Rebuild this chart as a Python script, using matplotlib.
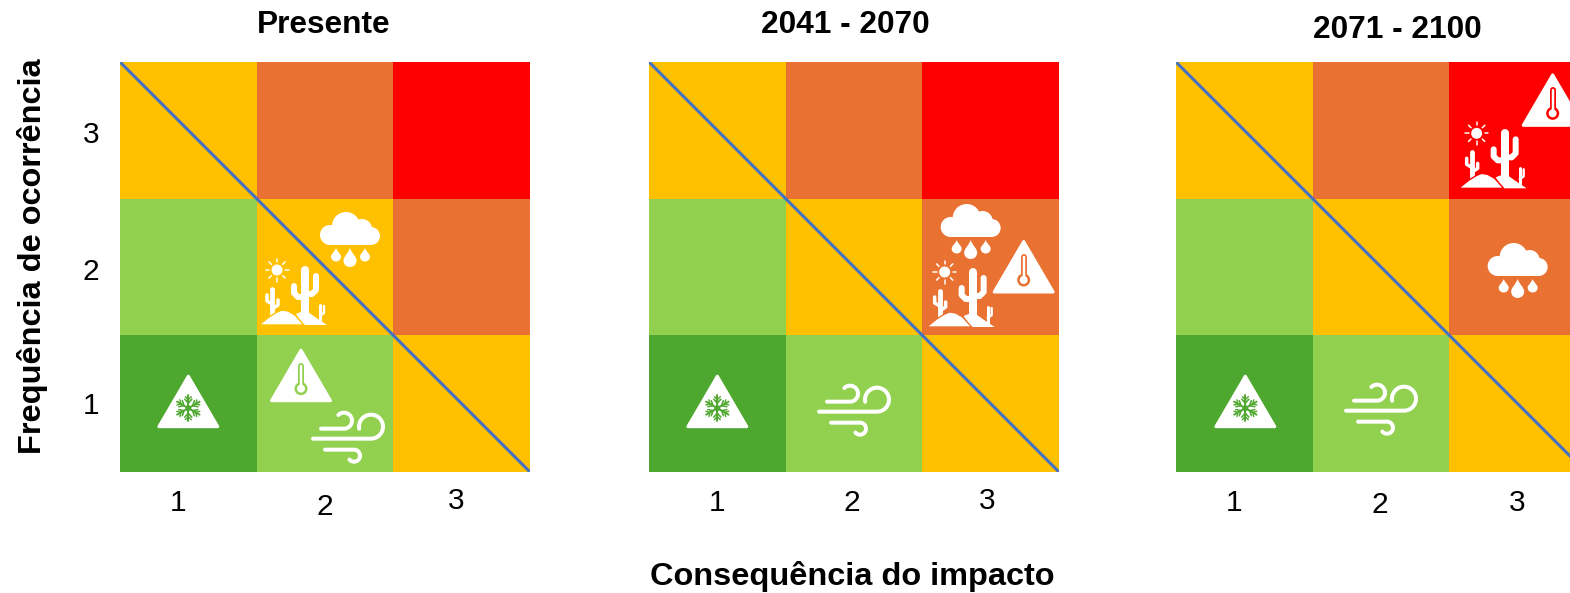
import matplotlib
matplotlib.use("Agg")
import matplotlib.pyplot as plt
import numpy as np
from matplotlib.colors import ListedColormap
from matplotlib.patches import Polygon, Circle, Rectangle, PathPatch
from matplotlib.path import Path
from matplotlib.transforms import ScaledTranslation

plt.rcParams['font.family'] = ['Liberation Sans', 'DejaVu Sans']

# data
periods = ["Presente", "2041 - 2070", "2071 - 2100"]
levels = [1, 2, 3]
# risk class of each cell, row 0 = frequency 1
risk = [[0, 1, 2],
        [1, 2, 3],
        [2, 3, 4]]
# (consequence, frequency) of each hazard per period
cold = [(1, 1), (1, 1), (1, 1)]
heat = [(2, 1), (3, 2), (3, 3)]
wind = [(2, 1), (2, 1), (2, 1)]
rain = [(2, 2), (3, 2), (3, 2)]
drought = [(2, 2), (3, 2), (3, 3)]

# layout, in pixels of the 1570x593 picture
risk_colors = ["#4EA72E", "#92D050", "#FFC000", "#E97132", "#FF0000"]
panel_left = [120, 649, 1176]
panel_top = 62
panel_size = 410
px = 3 / panel_size  # data units per pixel
# icon offset from the cell centre (right, up)
cold_off = [(0, 2), (0, 2), (1, 2)]
heat_off = [(-24, 28), (33, 0), (35, 30)]
wind_off = [(24, -33), (1, -6), (1, -5)]
rain_off = [(25, 28), (-20, 36), (0, -3)]
drought_off = [(-32, -25), (-30, -27), (-25, -25)]
title_dx = [-1, -9, 16]
title_pad = [29, 29, 24]
xtick_dx = [[-10, 0, -5], [0, -2, -3], [-10, -1, 0]]
xtick_dy = [[0, -4, 2], [0, 0, 2], [0, -2, 0]]
ytick_dy = [1, -2, -2]


def to_data(c, x, y):
    # icon coordinates are pixels, y pointing down
    return c[0] + x * px, c[1] - y * px


def stroke(ax, c, pts, color, w, z):
    xy = np.array([to_data(c, p[0], p[1]) for p in pts])
    ax.plot(xy[:, 0], xy[:, 1], color=color, lw=w * 0.72, solid_capstyle='round',
            solid_joinstyle='round', zorder=z, clip_on=True)


def arc(cx, cy, r, a0, a1):
    t = np.radians(np.linspace(a0, a1, 40))
    return list(zip(cx + r * np.cos(t), cy - r * np.sin(t)))


def disc(ax, c, x, y, r, color, z):
    ax.add_patch(Circle(to_data(c, x, y), r * px, fc=color, ec='none', zorder=z))


def triangle(ax, c):
    pts = [to_data(c, 0, -25.5), to_data(c, -29.5, 25), to_data(c, 29.5, 25)]
    ax.add_patch(Polygon(pts, closed=True, fc='white', ec='white', lw=3 * 0.72,
                         joinstyle='round', zorder=3))


def draw_cold(ax, c, bg):
    triangle(ax, c)
    for a in range(0, 360, 60):
        t = np.radians(a + 90)
        d = np.array([np.cos(t), -np.sin(t)])
        n = np.array([-d[1], d[0]])
        o = np.array([0, 6.5])
        stroke(ax, c, [o, o + 13 * d], bg, 1.9, 4)
        for s in (1, -1):
            stroke(ax, c, [o + 5 * d, o + 9 * d + s * 3.5 * n], bg, 1.6, 4)
            stroke(ax, c, [o + 8.5 * d, o + 11.5 * d + s * 3 * n], bg, 1.4, 4)
    disc(ax, c, 0, 6.5, 3, bg, 4)


def draw_heat(ax, c, bg):
    triangle(ax, c)
    stroke(ax, c, [(0, -10), (0, 10)], bg, 6, 4)
    disc(ax, c, 0, 13, 6.5, bg, 4)
    stroke(ax, c, [(0, -10), (0, 10)], 'white', 2.5, 5)
    disc(ax, c, 0, 13, 4, 'white', 5)


def draw_wind(ax, c, bg):
    w = 4
    stroke(ax, c, [(-28, -8)] + arc(-5, -16, 8, -90, 135), 'white', w, 3)
    stroke(ax, c, [(-36, 2)] + arc(22, -10, 12, -90, 190), 'white', w, 3)
    stroke(ax, c, [(-24, 13)] + arc(5, 19, 6, 90, -140), 'white', w, 3)


def drop(ax, c, x, y, w, h):
    r = w / 2
    verts = [(x, y), (x + r * 0.3, y + h * 0.3), (x + r, y + h * 0.45), (x + r, y + h - r),
             (x + r, y + h + r * 0.33), (x - r, y + h + r * 0.33), (x - r, y + h - r),
             (x - r, y + h * 0.45), (x - r * 0.3, y + h * 0.3), (x, y)]
    codes = [Path.MOVETO] + [Path.CURVE4] * 9
    ax.add_patch(PathPatch(Path([to_data(c, a, b) for a, b in verts], codes),
                           fc='white', ec='none', zorder=3))


def draw_rain(ax, c, bg):
    for x, y, r in [(-20, -4, 10), (-4, -13, 14), (12, -10, 10), (21, -3, 9)]:
        disc(ax, c, x, y, r, 'white', 3)
    x0, y0 = to_data(c, -20, 6)
    ax.add_patch(Rectangle((x0, y0), 41 * px, 12 * px, fc='white', ec='none', zorder=3))
    drop(ax, c, -14, 9, 10, 13.5)
    drop(ax, c, 0, 9, 13, 19)
    drop(ax, c, 15, 9, 10, 13.5)


def draw_drought(ax, c, bg):
    # sun
    disc(ax, c, -16, -22, 5.5, 'white', 3)
    for a in range(0, 360, 45):
        t = np.radians(a)
        stroke(ax, c, [(-16 + 8 * np.cos(t), -22 + 8 * np.sin(t)),
                       (-16 + 11.5 * np.cos(t), -22 + 11.5 * np.sin(t))], 'white', 1.5, 3)
    # cacti
    stroke(ax, c, [(12, -22), (12, 26)], 'white', 8, 3)
    stroke(ax, c, [(1, -6), (1, 1), (5, 5), (12, 5)], 'white', 6, 3)
    stroke(ax, c, [(23, -16), (23, -2), (19, 2), (12, 2)], 'white', 6, 3)
    stroke(ax, c, [(-21, -3), (-21, 24)], 'white', 4.8, 3)
    stroke(ax, c, [(-26, 3), (-26, 9), (-21, 12)], 'white', 3.5, 3)
    stroke(ax, c, [(-15, 8), (-15, 13), (-21, 17)], 'white', 3.5, 3)
    stroke(ax, c, [(27, 13), (27, 31)], 'white', 3, 3)
    stroke(ax, c, [(31, 14), (31, 21), (27, 24)], 'white', 2.4, 3)
    # dunes
    right = [(3, 22), (8, 20), (15, 20), (22, 25), (34, 33), (10, 33)]
    ax.add_patch(Polygon([to_data(c, *p) for p in right], fc='white', ec='none', zorder=3))
    left = [(-34, 33), (-24, 25), (-16, 20), (-11, 18), (-5, 19), (2, 23), (11, 33)]
    ax.add_patch(Polygon([to_data(c, *p) for p in left], fc='white', ec=bg, lw=1.0,
                         joinstyle='round', zorder=4))


def place(ax, draw, cell, off, bg):
    c = (cell[0] + off[0] * px, cell[1] + off[1] * px)
    draw(ax, c, bg)


fig = plt.figure(figsize=(15.7, 5.93), dpi=100)
W, H = 1570, 593
cmap = ListedColormap(risk_colors)

for i, period in enumerate(periods):
    ax = fig.add_axes([panel_left[i] / W, (H - panel_top - panel_size) / H,
                       panel_size / W, panel_size / H])
    edges = [0.5, 1.5, 2.5, 3.5]
    ax.pcolormesh(edges, edges, risk, cmap=cmap, vmin=0, vmax=4, zorder=1)
    ax.plot([0.5, 3.5], [3.5, 0.5], color="#4472C4", lw=2.2, zorder=2)
    ax.set_xlim(0.5, 3.5)
    ax.set_ylim(0.5, 3.5)
    for s in ax.spines.values():
        s.set_visible(False)
    ax.tick_params(length=0, labelsize=21.5)
    ax.set_xticks(levels, [str(v) for v in levels])
    ax.tick_params(axis='x', pad=12.5)
    for lab, dx, dy in zip(ax.get_xticklabels(), xtick_dx[i], xtick_dy[i]):
        lab.set_transform(lab.get_transform() +
                          ScaledTranslation(dx / 100, dy / 100, fig.dpi_scale_trans))
    if i == 0:
        ax.set_yticks(levels, [str(v) for v in levels])
        ax.tick_params(axis='y', pad=15)
        for lab, dy in zip(ax.get_yticklabels(), ytick_dy):
            lab.set_transform(lab.get_transform() +
                              ScaledTranslation(0, dy / 100, fig.dpi_scale_trans))
    else:
        ax.set_yticks([])
    ax.set_title(period, fontsize=22.8, fontweight='bold', x=0.5 + title_dx[i] / panel_size,
                 pad=title_pad[i] * 0.72)

    def bg_of(cell):
        return risk_colors[risk[cell[1] - 1][cell[0] - 1]]

    for draw, cells, offs in [(draw_cold, cold, cold_off), (draw_heat, heat, heat_off),
                              (draw_wind, wind, wind_off), (draw_rain, rain, rain_off),
                              (draw_drought, drought, drought_off)]:
        place(ax, draw, cells[i], offs[i], bg_of(cells[i]))

fig.supxlabel("Consequência do impacto", x=852 / W, y=1 - 576 / H, va='center',
              fontsize=23.4, fontweight='bold')
fig.supylabel("Frequência de ocorrência", x=33 / W, y=1 - 256 / H, va='center', ha='center',
              fontsize=23.4, fontweight='bold')

fig.savefig("out.png", dpi=100)
